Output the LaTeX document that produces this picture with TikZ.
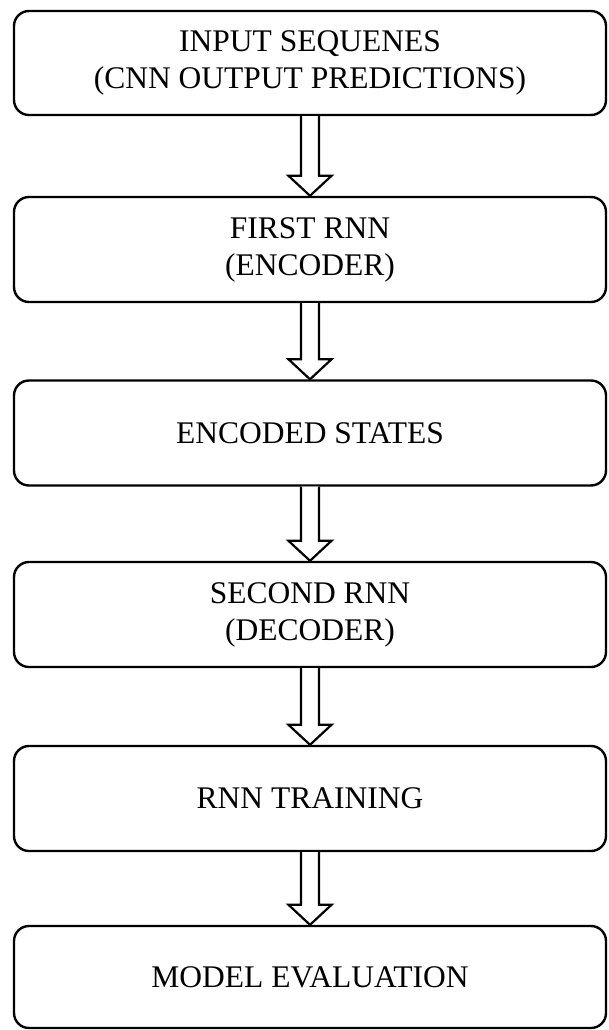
\documentclass[tikz,border=0pt]{standalone}
\usepackage{fontspec}
\setmainfont{Liberation Serif}
\usetikzlibrary{calc}
\tikzset{
  stage/.style={draw, line width=2.4pt, rounded corners=15pt, fill=white,
    minimum width=592pt, minimum height=105pt, align=center, inner sep=0pt,
    font=\fontsize{31.5}{37}\selectfont},
  hollowarrow/.style={draw, line width=2.2pt, fill=white, line join=miter}
}
% hollow block arrow from the bottom of one stage to the top of the next
\newcommand{\flowarrow}[2]{%
  \draw[hollowarrow] let \p1=(#1.south), \p2=(#2.north) in
    ($(\x1,\y1)+(-9pt,0)$) -- ($(\x1,\y2)+(-9pt,20pt)$) -- ($(\x1,\y2)+(-21.5pt,20pt)$)
    -- (\x1,\y2) -- ($(\x1,\y2)+(21.5pt,20pt)$) -- ($(\x1,\y2)+(9pt,20pt)$)
    -- ($(\x1,\y1)+(9pt,0)$);%
}
\begin{document}
\begin{tikzpicture}[x=1pt,y=1pt]
\useasboundingbox (0,0) rectangle (608,-1030);

\node[stage, minimum height=104pt] (s1) at (310,-63)    {INPUT SEQUENES\\(CNN OUTPUT PREDICTIONS)};
\node[stage] (s2) at (310,-249.5) {FIRST RNN\\(ENCODER)};
\node[stage] (s3) at (310,-433)   {ENCODED STATES};
\node[stage] (s4) at (310,-614.5) {SECOND RNN\\(DECODER)};
\node[stage] (s5) at (310,-798.5) {RNN TRAINING};
\node[stage, minimum height=102pt] (s6) at (310,-977)   {MODEL EVALUATION};

\flowarrow{s1}{s2}
\flowarrow{s2}{s3}
\flowarrow{s3}{s4}
\flowarrow{s4}{s5}
\flowarrow{s5}{s6}
\end{tikzpicture}
\end{document}
